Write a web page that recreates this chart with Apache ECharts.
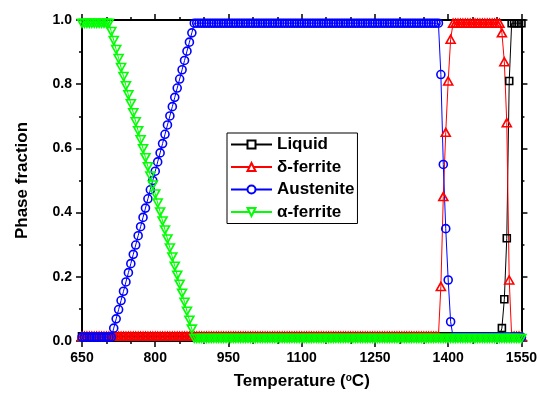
<!DOCTYPE html>
<html>
<head>
<meta charset="utf-8">
<script src="https://cdn.jsdelivr.net/npm/echarts@6/dist/echarts.min.js"></script>
<style>
  html, body { margin: 0; padding: 0; background: #fff; }
  #chart { width: 540px; height: 400px; }
</style>
</head>
<body>
<div id="chart"></div>
<script>
// Temperature grid (°C), 5 °C steps
var temps = [
  650, 655, 660, 665, 670, 675, 680, 685, 690, 695,
  700, 705, 710, 715, 720, 725, 730, 735, 740, 745,
  750, 755, 760, 765, 770, 775, 780, 785, 790, 795,
  800, 805, 810, 815, 820, 825, 830, 835, 840, 845,
  850, 855, 860, 865, 870, 875, 880, 885, 890, 895,
  900, 905, 910, 915, 920, 925, 930, 935, 940, 945,
  950, 955, 960, 965, 970, 975, 980, 985, 990, 995,
  1000, 1005, 1010, 1015, 1020, 1025, 1030, 1035, 1040, 1045,
  1050, 1055, 1060, 1065, 1070, 1075, 1080, 1085, 1090, 1095,
  1100, 1105, 1110, 1115, 1120, 1125, 1130, 1135, 1140, 1145,
  1150, 1155, 1160, 1165, 1170, 1175, 1180, 1185, 1190, 1195,
  1200, 1205, 1210, 1215, 1220, 1225, 1230, 1235, 1240, 1245,
  1250, 1255, 1260, 1265, 1270, 1275, 1280, 1285, 1290, 1295,
  1300, 1305, 1310, 1315, 1320, 1325, 1330, 1335, 1340, 1345,
  1350, 1355, 1360, 1365, 1370, 1375, 1380, 1385, 1390, 1395,
  1400, 1405, 1410, 1415, 1420, 1425, 1430, 1435, 1440, 1445,
  1450, 1455, 1460, 1465, 1470, 1475, 1480, 1485, 1490, 1495,
  1500, 1505, 1510, 1515, 1520, 1525, 1530, 1535, 1540, 1545,
  1550
];

// Phase fractions at each temperature
var liquid = [
  .015, .015, .015, .015, .015, .015, .015, .015, .015, .015,
  .015, .015, .015, .015, .015, .015, .015, .015, .015, .015,
  .015, .015, .015, .015, .015, .015, .015, .015, .015, .015,
  .015, .015, .015, .015, .015, .015, .015, .015, .015, .015,
  .015, .015, .015, .015, .015, .015, .015, .015, .015, .015,
  .015, .015, .015, .015, .015, .015, .015, .015, .015, .015,
  .015, .015, .015, .015, .015, .015, .015, .015, .015, .015,
  .015, .015, .015, .015, .015, .015, .015, .015, .015, .015,
  .015, .015, .015, .015, .015, .015, .015, .015, .015, .015,
  .015, .015, .015, .015, .015, .015, .015, .015, .015, .015,
  .015, .015, .015, .015, .015, .015, .015, .015, .015, .015,
  .015, .015, .015, .015, .015, .015, .015, .015, .015, .015,
  .015, .015, .015, .015, .015, .015, .015, .015, .015, .015,
  .015, .015, .015, .015, .015, .015, .015, .015, .015, .015,
  .015, .015, .015, .015, .015, .015, .015, .015, .015, .015,
  .015, .015, .015, .015, .015, .015, .015, .015, .015, .015,
  .015, .015, .015, .015, .015, .015, .015, .015, .015, .015,
  .015, .015, .04, .13, .32, .81, .99, .99, .99, .99,
  .99
];

var deltaFerrite = [
  .015, .015, .015, .015, .015, .015, .015, .015, .015, .015,
  .015, .015, .015, .015, .015, .015, .015, .015, .015, .015,
  .015, .015, .015, .015, .015, .015, .015, .015, .015, .015,
  .015, .015, .015, .015, .015, .015, .015, .015, .015, .015,
  .015, .015, .015, .015, .015, .015, .015, .015, .015, .015,
  .015, .015, .015, .015, .015, .015, .015, .015, .015, .015,
  .015, .015, .015, .015, .015, .015, .015, .015, .015, .015,
  .015, .015, .015, .015, .015, .015, .015, .015, .015, .015,
  .015, .015, .015, .015, .015, .015, .015, .015, .015, .015,
  .015, .015, .015, .015, .015, .015, .015, .015, .015, .015,
  .015, .015, .015, .015, .015, .015, .015, .015, .015, .015,
  .015, .015, .015, .015, .015, .015, .015, .015, .015, .015,
  .015, .015, .015, .015, .015, .015, .015, .015, .015, .015,
  .015, .015, .015, .015, .015, .015, .015, .015, .015, .015,
  .015, .015, .015, .015, .015, .015, .015, .17, .45, .65,
  .81, .94, .99, .99, .99, .99, .99, .99, .99, .99,
  .99, .99, .99, .99, .99, .99, .99, .99, .99, .99,
  .99, .99, .96, .87, .68, .19, .015, .015, .015, .015,
  .015
];

var austenite = [
  .012, .012, .012, .012, .012, .012, .012, .012, .012, .012,
  .012, .012, .012, .04, .069, .098, .126, .155, .184, .213,
  .241, .270, .299, .328, .356, .385, .414, .443, .471, .500,
  .529, .558, .586, .615, .644, .673, .701, .730, .759, .788,
  .816, .845, .874, .903, .931, .960, .99, .99, .99, .99,
  .99, .99, .99, .99, .99, .99, .99, .99, .99, .99,
  .99, .99, .99, .99, .99, .99, .99, .99, .99, .99,
  .99, .99, .99, .99, .99, .99, .99, .99, .99, .99,
  .99, .99, .99, .99, .99, .99, .99, .99, .99, .99,
  .99, .99, .99, .99, .99, .99, .99, .99, .99, .99,
  .99, .99, .99, .99, .99, .99, .99, .99, .99, .99,
  .99, .99, .99, .99, .99, .99, .99, .99, .99, .99,
  .99, .99, .99, .99, .99, .99, .99, .99, .99, .99,
  .99, .99, .99, .99, .99, .99, .99, .99, .99, .99,
  .99, .99, .99, .99, .99, .99, .99, .83, .55, .35,
  .19, .06, .012, .012, .012, .012, .012, .012, .012, .012,
  .012, .012, .012, .012, .012, .012, .012, .012, .012, .012,
  .012, .012, .012, .012, .012, .012, .012, .012, .012, .012,
  .012
];

var alphaFerrite = [
  .99, .99, .99, .99, .99, .99, .99, .99, .99, .99,
  .99, .99, .964, .936, .908, .880, .852, .824, .795, .767,
  .739, .711, .683, .655, .627, .599, .571, .543, .514, .486,
  .458, .430, .402, .374, .346, .318, .290, .262, .233, .205,
  .177, .149, .121, .093, .065, .037, .008, .008, .008, .008,
  .008, .008, .008, .008, .008, .008, .008, .008, .008, .008,
  .008, .008, .008, .008, .008, .008, .008, .008, .008, .008,
  .008, .008, .008, .008, .008, .008, .008, .008, .008, .008,
  .008, .008, .008, .008, .008, .008, .008, .008, .008, .008,
  .008, .008, .008, .008, .008, .008, .008, .008, .008, .008,
  .008, .008, .008, .008, .008, .008, .008, .008, .008, .008,
  .008, .008, .008, .008, .008, .008, .008, .008, .008, .008,
  .008, .008, .008, .008, .008, .008, .008, .008, .008, .008,
  .008, .008, .008, .008, .008, .008, .008, .008, .008, .008,
  .008, .008, .008, .008, .008, .008, .008, .008, .008, .008,
  .008, .008, .008, .008, .008, .008, .008, .008, .008, .008,
  .008, .008, .008, .008, .008, .008, .008, .008, .008, .008,
  .008, .008, .008, .008, .008, .008, .008, .008, .008, .008,
  .008
];

var seriesNames = ['Liquid', 'δ-ferrite', 'Austenite', 'α-ferrite'];
var xTicks = { min: 650, max: 1550, step: 150 };
var yTicks = { min: 0, max: 1, step: 0.2 };

var FONT = '"Liberation Sans", Arial, Helvetica, sans-serif';

function pairs(values) {
  return temps.map(function (t, i) { return [t, values[i]]; });
}

function phaseSeries(name, values, color, symbol, size, rotate) {
  return {
    name: name,
    type: 'line',
    data: pairs(values),
    symbol: symbol,
    symbolSize: size,
    symbolRotate: rotate || 0,
    showAllSymbol: true,
    lineStyle: { color: color, width: 1 },
    itemStyle: { color: 'rgba(255,255,255,0)', borderColor: color, borderWidth: 1.6 },
    emphasis: { disabled: true }
  };
}

function frameAxis(position, showLabels, range, minorSplit) {
  return {
    type: 'value',
    position: position,
    min: range.min,
    max: range.max,
    interval: range.step,
    axisLine: { show: true, onZero: false, lineStyle: { color: '#000', width: 2 } },
    axisTick: { show: true, inside: false, length: 6, lineStyle: { color: '#000', width: 1.5 } },
    minorTick: { show: true, splitNumber: minorSplit, length: 3, lineStyle: { color: '#000', width: 1.5 } },
    splitLine: { show: false },
    minorSplitLine: { show: false },
    axisLabel: {
      show: showLabels,
      color: '#000',
      fontFamily: FONT,
      fontWeight: 'bold',
      fontSize: 14,
      margin: 10,
      formatter: function (v) { return String(v); }
    }
  };
}

var xBottom = frameAxis('bottom', true, xTicks, 3);
xBottom.name = 'Temperature ({sup|o}C)';
xBottom.nameLocation = 'middle';
xBottom.nameGap = 32;
xBottom.nameTextStyle = {
  color: '#000', fontFamily: FONT, fontWeight: 'bold', fontSize: 17,
  rich: { sup: { fontFamily: FONT, fontWeight: 'bold', fontSize: 10, verticalAlign: 'top', color: '#000' } }
};
var xTop = frameAxis('top', false, xTicks, 3);

var yLeft = frameAxis('left', true, yTicks, 2);
yLeft.axisLabel.formatter = function (v) { return v.toFixed(1); };
yLeft.name = 'Phase fraction';
yLeft.nameLocation = 'middle';
yLeft.nameGap = 51;
yLeft.nameTextStyle = { color: '#000', fontFamily: FONT, fontWeight: 'bold', fontSize: 17 };
var yRight = frameAxis('right', false, yTicks, 2);

var chart = echarts.init(document.getElementById('chart'), null, { renderer: 'canvas' });
chart.setOption({
  animation: false,
  backgroundColor: '#fff',
  grid: { left: 82, right: 17, top: 20, bottom: 59, containLabel: false },
  xAxis: [xBottom, xTop],
  yAxis: [yLeft, yRight],
  legend: {
    orient: 'vertical',
    left: 227,
    top: 133,
    selectedMode: false,
    itemWidth: 41,
    itemHeight: 10,
    itemGap: 5.5,
    padding: [3, 3, 3, 3],
    borderColor: '#000',
    borderWidth: 1,
    backgroundColor: '#fff',
    itemStyle: { color: '#fff' },
    textStyle: { color: '#000', fontFamily: FONT, fontWeight: 'bold', fontSize: 17, lineHeight: 17 },
    data: seriesNames
  },
  series: [
    phaseSeries(seriesNames[0], liquid, '#000000', 'rect', 7),
    phaseSeries(seriesNames[1], deltaFerrite, '#ff0000', 'triangle', [9, 8]),
    phaseSeries(seriesNames[2], austenite, '#0000ff', 'circle', 8),
    phaseSeries(seriesNames[3], alphaFerrite, '#00ff00', 'triangle', [9, 8], 180)
  ]
});
</script>
</body>
</html>
